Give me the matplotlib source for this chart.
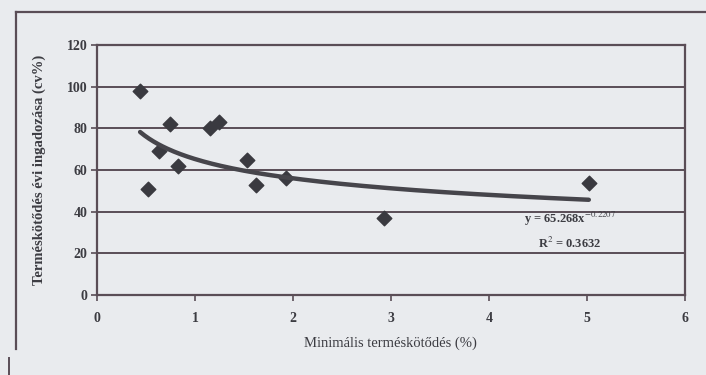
import numpy as np
import matplotlib.pyplot as plt
from matplotlib.lines import Line2D

# minimális terméskötődés (%) vs. évi ingadozás (cv%)
min_fruit_set = [0.44, 0.52, 0.63, 0.75, 0.83, 1.15, 1.25, 1.53, 1.62, 1.93, 2.93, 5.02]
cv_percent = [98, 51, 69, 82, 62, 80, 83, 65, 53, 56, 37, 54]

# power trendline y = a * x^b
fit_a = 65.268
fit_b = -0.2207
r_squared = 0.3632

bg = "#e9ebee"
ink = "#5a4d56"
text_col = "#3c3c42"

plt.rcParams["font.family"] = ["Liberation Serif", "DejaVu Serif"]
plt.rcParams["mathtext.fontset"] = "stix"

fig = plt.figure(figsize=(7.06, 3.75), dpi=100, facecolor=bg)
ax = fig.add_axes([0.1374, 0.2133, 0.8326, 0.6667], facecolor=bg)

# outer frame of the figure
fig.add_artist(Line2D([0.022, 1.0], [0.968, 0.968], transform=fig.transFigure, color=ink, lw=1.6))
fig.add_artist(Line2D([0.022, 0.022], [0.968, 0.07], transform=fig.transFigure, color=ink, lw=1.6))
fig.add_artist(Line2D([0.013, 0.013], [0.045, 0.0], transform=fig.transFigure, color=ink, lw=1.4))

ax.set_xlim(0, 6)
ax.set_ylim(0, 120)
ax.set_xticks(range(0, 7))
ax.set_yticks(range(0, 121, 20))
ax.grid(axis="y", color=ink, lw=1.4)
ax.set_axisbelow(True)
for side in ["left", "bottom", "top", "right"]:
    ax.spines[side].set_color(ink)
    ax.spines[side].set_linewidth(1.6)

ax.tick_params(axis="both", colors=ink, labelcolor=text_col, labelsize=10, length=4, width=1.2)
ax.tick_params(axis="x", pad=8)
ax.tick_params(axis="y", pad=3)
for lbl in ax.get_xticklabels() + ax.get_yticklabels():
    lbl.set_fontweight("bold")

ax.scatter(min_fruit_set, cv_percent, marker="D", s=55, color="#3a3a40", zorder=3)

xs = np.linspace(min(min_fruit_set), max(min_fruit_set), 200)
ax.plot(xs, fit_a * xs ** fit_b, color="#46454b", lw=3.2, zorder=4, solid_capstyle="round")

ax.text(4.83, 36.5, "y = %.3fx$^{%.4f}$" % (fit_a, fit_b), ha="center", va="center",
        fontsize=9, color=text_col, fontweight="bold")
ax.text(4.83, 24.8, "R$^2$ = %.4f" % r_squared, ha="center", va="center",
        fontsize=9, color=text_col, fontweight="bold")

ax.set_xlabel("Minimális terméskötődés (%)", fontsize=10.5, color=text_col)
ax.set_ylabel("Terméskötődés évi ingadozása (cv%)", fontsize=10.5, color=text_col,
              fontweight="bold")
ax.xaxis.set_label_coords(0.5, -0.168)
ax.yaxis.set_label_coords(-0.087, 0.5)

fig.savefig("out.png", dpi=100, facecolor=bg)
